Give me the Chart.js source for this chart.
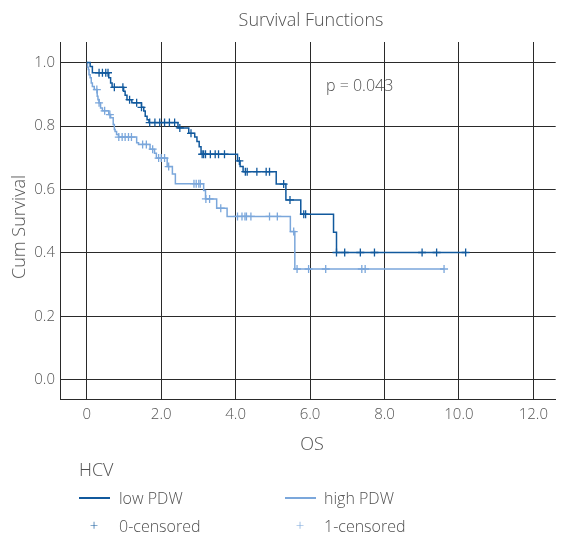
<!DOCTYPE html>
<html>
<head>
  <meta charset="utf-8">
  <title>Survival Functions</title>
  <script src="https://cdn.jsdelivr.net/npm/chart.js"></script>
  <style>
    html, body { margin: 0; padding: 0; background: #fff; }
    body { font-family: 'Open Sans', sans-serif; font-weight: 300; color: #505050; }
    #wrap { position: relative; width: 561px; height: 538px; overflow: hidden; }
    #wrap canvas { position: absolute; left: 0; top: 0; }
    .txt { position: absolute; white-space: nowrap; line-height: 1; }
    .mid { transform: translate(-50%, -50%); }
    .lft { transform: translateY(-50%); }
    .swatch { position: absolute; height: 2px; width: 31px; }
  </style>
</head>
<body>
  <div id="wrap">
    <canvas id="km" width="561" height="538"></canvas>

    <div class="txt mid" style="left:311px; top:19px; font-size:18px;">Survival Functions</div>
    <div class="txt lft" style="left:326px; top:85px; font-size:16px;">p = 0.043</div>
    <div class="txt mid" style="left:18px; top:227px; font-size:18px; transform:translate(-50%,-50%) rotate(-90deg);">Cum Survival</div>
    <div class="txt mid" style="left:312px; top:443px; font-size:18px;">OS</div>

    <!-- legend -->
    <div class="txt lft" style="left:79px; top:469px; font-size:18px;">HCV</div>
    <div class="swatch" style="left:79px; top:497px; background:#11599d;"></div>
    <div class="txt lft" style="left:119px; top:498px; font-size:16px;">low PDW</div>
    <div class="swatch" style="left:285px; top:497px; background:#7ba7db;"></div>
    <div class="txt lft" style="left:324px; top:498px; font-size:16px;">high PDW</div>
    <div class="txt mid" style="left:94px; top:525px; font-size:15px; color:#11599d;">+</div>
    <div class="txt lft" style="left:119px; top:526px; font-size:16px;">0-censored</div>
    <div class="txt mid" style="left:300px; top:525px; font-size:15px; color:#7ba7db;">+</div>
    <div class="txt lft" style="left:324px; top:526px; font-size:16px;">1-censored</div>
  </div>

  <script>
    // Kaplan-Meier steps (time, cumulative survival)
    const lowTimes = [0, 0.09, 0.15, 0.59, 0.64, 0.68, 0.99, 1.03, 1.08, 1.21, 1.47, 1.53, 1.57, 1.62, 1.67,
                      2.45, 2.74, 2.9, 2.96, 3.02, 3.07, 4.05, 4.12, 4.2, 5.09, 5.35, 5.75, 6.63, 6.71, 10.2];
    const lowSurv  = [1.0, 0.988, 0.968, 0.952, 0.936, 0.922, 0.91, 0.897, 0.883, 0.873, 0.859, 0.847, 0.831, 0.82, 0.811,
                      0.794, 0.777, 0.765, 0.751, 0.735, 0.711, 0.69, 0.672, 0.656, 0.617, 0.567, 0.522, 0.465, 0.401, 0.401];
    const lowCensor = [0.33, 0.42, 0.51, 0.57, 0.74, 0.97, 1.15, 1.34, 1.47, 1.69, 1.83, 1.96, 2.09, 2.22, 2.36, 2.5,
                       2.8, 3.1, 3.14, 3.19, 3.32, 3.45, 3.54, 3.7, 4.1, 4.26, 4.31, 4.57, 4.82, 4.91, 5.29, 5.46,
                       5.83, 5.88, 6.71, 6.93, 7.35, 7.73, 9.01, 9.4, 10.18];

    const highTimes = [0, 0.02, 0.04, 0.06, 0.09, 0.12, 0.15, 0.2, 0.28, 0.3, 0.33, 0.37, 0.42, 0.59, 0.64, 0.71,
                       0.74, 0.76, 0.8, 0.85, 1.34, 1.39, 1.7, 1.82, 1.87, 2.16, 2.3, 2.38, 3.14, 3.19, 3.49, 3.77,
                       5.47, 5.59, 9.6];
    const highSurv  = [1.0, 0.985, 0.978, 0.962, 0.952, 0.936, 0.925, 0.915, 0.894, 0.883, 0.873, 0.857, 0.848, 0.836,
                       0.826, 0.805, 0.789, 0.783, 0.773, 0.765, 0.747, 0.742, 0.727, 0.714, 0.699, 0.672, 0.649,
                       0.618, 0.597, 0.57, 0.541, 0.515, 0.467, 0.349, 0.349];
    const highCensor = [0.27, 0.33, 0.48, 0.62, 0.86, 0.95, 1.03, 1.12, 1.2, 1.5, 1.6, 1.77, 1.93, 2.0, 2.09, 2.2,
                        2.88, 2.94, 3.01, 3.05, 3.2, 3.3, 3.6, 4.05, 4.17, 4.25, 4.29, 4.41, 4.91, 5.12, 5.56, 5.65,
                        5.96, 6.42, 7.39, 7.48, 9.6];

    const xTicks = [0, 2, 4, 6, 8, 10, 12];
    const yTicks = [0, 0.2, 0.4, 0.6, 0.8, 1.0];

    const DARK = '#11599d';
    const LIGHT = '#7ba7db';
    const GRID = '#2a2a2a';

    // survival value at time t (step function)
    function survAt(times, surv, t) {
      let s = surv[0];
      for (let i = 0; i < times.length; i++) {
        if (times[i] <= t) s = surv[i];
      }
      return s;
    }

    const toPts = (times, surv) => times.map((t, i) => ({ x: t, y: surv[i] }));
    const censorPts = (cens, times, surv) => cens.map(t => ({ x: t, y: survAt(times, surv, t) }));

    const tickFont = { family: "'Open Sans', sans-serif", size: 15, weight: 300 };

    new Chart(document.getElementById('km'), {
      type: 'line',
      data: {
        datasets: [
          { label: 'low PDW', data: toPts(lowTimes, lowSurv), borderColor: DARK, borderWidth: 1.5,
            stepped: true, pointRadius: 0, fill: false },
          { label: 'high PDW', data: toPts(highTimes, highSurv), borderColor: LIGHT, borderWidth: 1.5,
            stepped: true, pointRadius: 0, fill: false },
          { label: '0-censored', data: censorPts(lowCensor, lowTimes, lowSurv), showLine: false,
            pointStyle: 'cross', pointRadius: 4, borderColor: DARK, borderWidth: 1.3 },
          { label: '1-censored', data: censorPts(highCensor, highTimes, highSurv), showLine: false,
            pointStyle: 'cross', pointRadius: 4, borderColor: LIGHT, borderWidth: 1.3 }
        ]
      },
      options: {
        responsive: false,
        animation: false,
        devicePixelRatio: 1,
        layout: { padding: { top: 42, left: 0, right: 0, bottom: 0 } },
        plugins: { legend: { display: false }, tooltip: { enabled: false } },
        scales: {
          x: {
            type: 'linear',
            min: -0.72,
            max: 12.6,
            afterFit: s => { s.height = 139; },
            afterBuildTicks: s => { s.ticks = xTicks.map(v => ({ value: v })); },
            grid: { color: GRID, lineWidth: 1, drawTicks: false },
            border: { display: true, color: GRID, width: 1 },
            ticks: { padding: 7, color: '#555', font: tickFont,
                     callback: v => v === 0 ? '0' : v.toFixed(1) }
          },
          y: {
            type: 'linear',
            min: -0.061,
            max: 1.065,
            afterFit: s => { s.width = 60; },
            afterBuildTicks: s => { s.ticks = yTicks.map(v => ({ value: v })); },
            grid: { color: GRID, lineWidth: 1, drawTicks: false },
            border: { display: true, color: GRID, width: 1 },
            ticks: { padding: 5, color: '#555', font: tickFont,
                     callback: v => v.toFixed(1) }
          }
        }
      }
    });
  </script>
</body>
</html>
